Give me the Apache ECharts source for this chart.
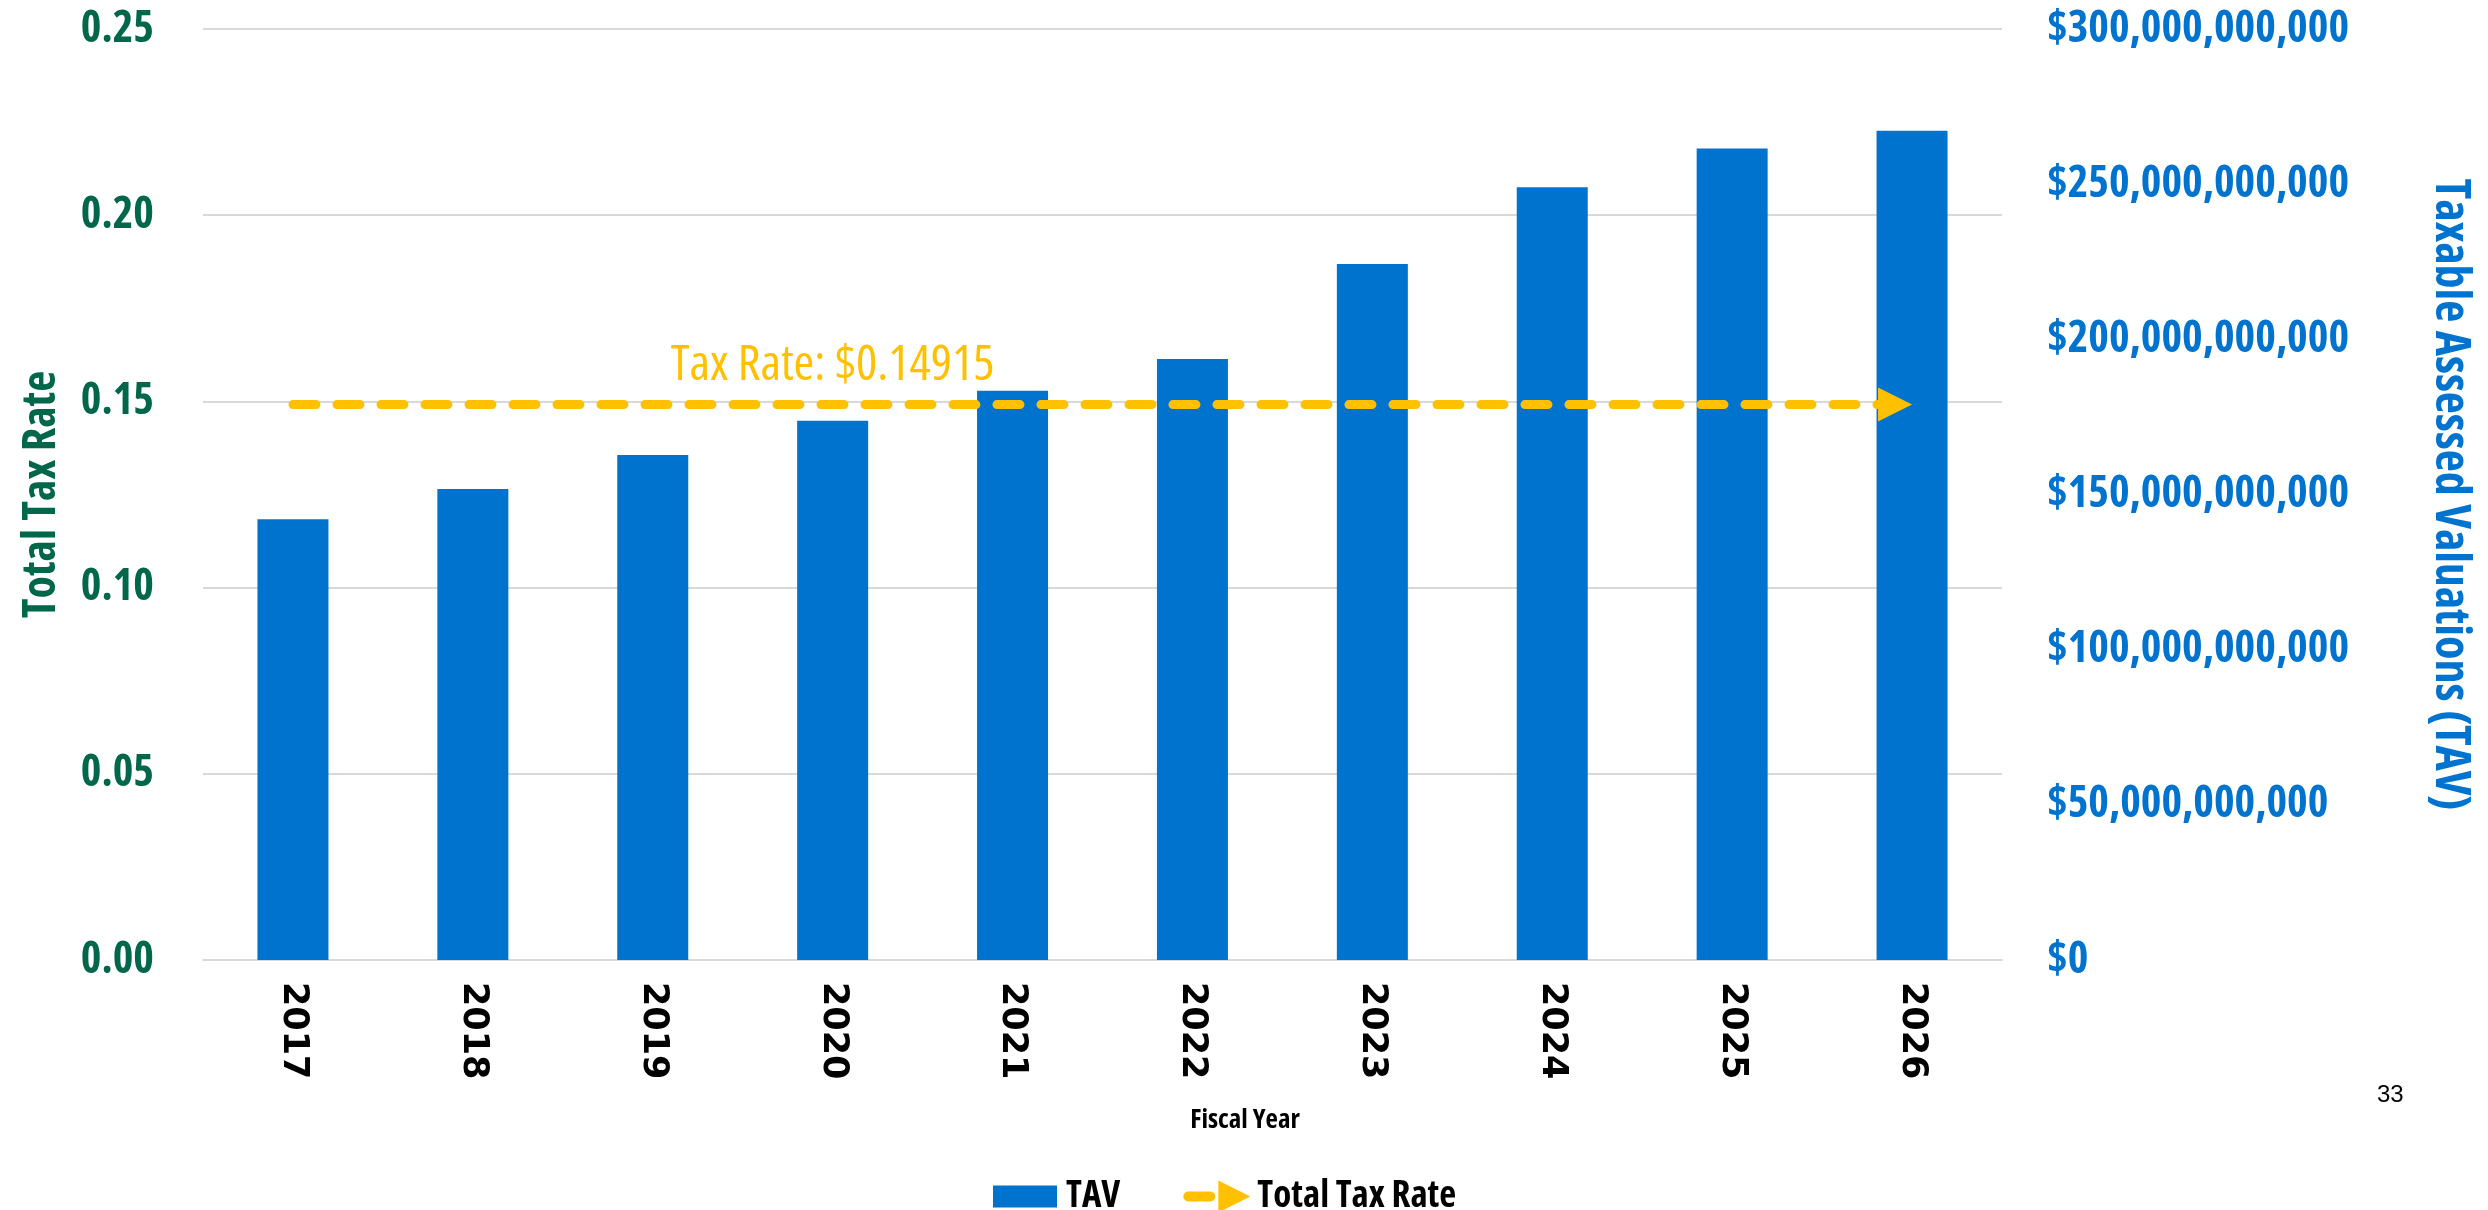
<!DOCTYPE html>
<html>
<head>
<meta charset="utf-8">
<script src="https://cdn.jsdelivr.net/npm/echarts@6/dist/echarts.min.js"></script>
<style>
  html, body { margin: 0; padding: 0; background: #fff; }
  #chart { width: 2488px; height: 1210px; }
</style>
</head>
<body>
<div id="chart"></div>
<script>
// fiscal years on the x axis
const years = ['2017', '2018', '2019', '2020', '2021', '2022', '2023', '2024', '2025', '2026'];
// taxable assessed valuation, in dollars
const tav = [142.0e9, 151.8e9, 162.7e9, 173.8e9, 183.4e9, 193.7e9, 224.3e9, 249.0e9, 261.5e9, 267.2e9];
// flat total tax rate
const taxRate = [0.14915, 0.14915, 0.14915, 0.14915, 0.14915, 0.14915, 0.14915, 0.14915, 0.14915, 0.14915];
const rateLabelIndex = 3;
const rateTicks = { min: 0, max: 0.25, interval: 0.05 };
const tavTicks = { min: 0, max: 300e9, interval: 50e9 };

const GREEN = '#00674A';
const BLUE = '#0073CF';
const GOLD = '#FFC000';

// the slide uses a condensed face; pick the narrowest one that is installed
const ctx = document.createElement('canvas').getContext('2d');
function textW(font, s) { ctx.font = font; return ctx.measureText(s).width; }
const probe = 'Total Tax Rate $0.14915 Assessed';
const fallbackW = textW('bold 100px monospace', probe);
const candidates = [
    { st: '', fam: '"Noto Sans ExtraCondensed"' },
    { st: '', fam: '"Noto Sans Condensed"' },
    { st: '', fam: '"Open Sans Condensed"' },
    { st: '', fam: '"Roboto Condensed"' },
    { st: '', fam: '"Liberation Sans Narrow"' },
    { st: 'extra-condensed', fam: '"Noto Sans"' },
    { st: 'condensed', fam: '"Noto Sans"' },
    { st: 'condensed', fam: '"Open Sans"' },
    { st: '', fam: '"DejaVu Sans Condensed"' }
];
let pick = { st: '', fam: '"DejaVu Sans Condensed"' };
let bestW = Infinity;
candidates.forEach(function (c) {
    const w = textW('bold ' + (c.st ? c.st + ' ' : '') + '100px ' + c.fam + ', monospace', probe);
    const plain = textW('bold 100px ' + c.fam + ', monospace', probe);
    const present = Math.abs(w - fallbackW) > 0.5 && (c.st === '' || Math.abs(w - plain) > 0.5);
    if (present && w < bestW) { bestW = w; pick = c; }
});
const FAM = pick.fam + ', sans-serif';
const BOLD = pick.st ? 'bold ' + pick.st : 'bold';
const NORM = pick.st ? 'normal ' + pick.st : 'normal';

// font size so that a string spans a width, capped by its cap height
function fit(s, weight, width, maxSize) {
    const w100 = textW(weight + ' 100px ' + FAM, s);
    return Math.min(maxSize, Math.floor(width / w100 * 100));
}
const tickSize = Math.min(fit('$300,000,000,000', BOLD, 304, 48), fit('0.25', BOLD, 76, 48));
const leftNameSize = fit('Total Tax Rate', BOLD, 250, 52);
const rightNameSize = fit('Taxable Assessed Valuations (TAV)', BOLD, 640, 52);
const rateLabelSize = fit('Tax Rate: $0.14915', NORM, 345, 50);
const legendSize = fit('Total Tax Rate', BOLD, 204, 40);
const fiscalSize = fit('Fiscal Year', BOLD, 112, 35);

const chart = echarts.init(document.getElementById('chart'));

const lastIdx = taxRate.length - 1;
const rateData = taxRate.map(function (v, i) {
    if (i === rateLabelIndex) {
        return {
            value: v,
            label: {
                show: true,
                position: 'top',
                distance: 14,
                formatter: 'Tax Rate: $' + v.toFixed(5),
                color: GOLD,
                fontFamily: FAM,
                fontWeight: NORM,
                fontSize: rateLabelSize
            }
        };
    }
    return v;
});

const option = {
    backgroundColor: '#fff',
    animation: false,
    grid: { left: 203, right: 486, top: 29, bottom: 250 },
    legend: {
        left: 984,
        top: 1173,
        itemWidth: 72,
        itemHeight: 34,
        itemGap: 60,
        textStyle: { color: '#000', fontFamily: FAM, fontWeight: BOLD, fontSize: legendSize },
        data: [
            { name: 'TAV', icon: 'path://M0 0M72 34M4 6L68 6L68 28L4 28Z', itemStyle: { color: BLUE, borderWidth: 0 } },
            { name: 'Total Tax Rate', icon: 'path://M0 0M72 34M8 12L30 12A5 5 0 0 1 30 22L8 22A5 5 0 0 1 8 12ZM38 1L70 17L38 33Z', itemStyle: { color: GOLD, borderWidth: 0 } }
        ]
    },
    graphic: [
        {
            type: 'text',
            x: 1245,
            y: 1120,
            style: {
                text: 'Fiscal Year', fill: '#000', align: 'center', verticalAlign: 'middle',
                fontFamily: FAM, fontWeight: BOLD, fontSize: fiscalSize
            }
        },
        {
            type: 'text',
            left: 2377,
            top: 1083,
            style: { text: '33', fill: '#000', font: '24px "Liberation Sans", Arial, sans-serif' }
        }
    ],
    xAxis: {
        type: 'category',
        data: years,
        axisTick: { show: false },
        axisLine: { lineStyle: { color: '#D9D9D9', width: 2 } },
        axisLabel: {
            rotate: -90,
            margin: 22,
            color: '#000',
            fontFamily: '"DejaVu Sans", sans-serif',
            fontWeight: 'bold',
            fontSize: 35
        }
    },
    yAxis: [
        {
            type: 'value',
            min: rateTicks.min,
            max: rateTicks.max,
            interval: rateTicks.interval,
            name: 'Total Tax Rate',
            nameLocation: 'middle',
            nameGap: 138,
            nameTextStyle: { color: GREEN, fontFamily: FAM, fontWeight: BOLD, fontSize: leftNameSize },
            axisLine: { show: false },
            axisTick: { show: false },
            splitLine: { lineStyle: { color: '#D9D9D9', width: 2 } },
            axisLabel: {
                margin: 49,
                color: GREEN,
                fontFamily: FAM,
                fontWeight: BOLD,
                fontSize: tickSize,
                formatter: function (v) { return v.toFixed(2); }
            }
        },
        {
            type: 'value',
            min: tavTicks.min,
            max: tavTicks.max,
            interval: tavTicks.interval,
            name: 'Taxable Assessed Valuations (TAV)',
            nameLocation: 'middle',
            nameRotate: -90,
            nameGap: 424,
            nameTextStyle: { color: BLUE, fontFamily: FAM, fontWeight: BOLD, fontSize: rightNameSize },
            axisLine: { show: false },
            axisTick: { show: false },
            splitLine: { show: false },
            axisLabel: {
                margin: 45,
                color: BLUE,
                fontFamily: FAM,
                fontWeight: BOLD,
                fontSize: tickSize,
                formatter: function (v) { return '$' + Math.round(v).toLocaleString('en-US'); }
            }
        }
    ],
    series: [
        {
            name: 'TAV',
            type: 'bar',
            yAxisIndex: 1,
            data: tav,
            barWidth: 71,
            itemStyle: { color: BLUE }
        },
        {
            name: 'Total Tax Rate',
            type: 'line',
            yAxisIndex: 0,
            data: rateData,
            showSymbol: true,
            showAllSymbol: true,
            symbol: function (v, p) { return p.dataIndex === lastIdx ? 'triangle' : 'circle'; },
            symbolSize: function (v, p) { return p.dataIndex === lastIdx ? [34, 34] : 0; },
            symbolRotate: function (v, p) { return p.dataIndex === lastIdx ? -90 : 0; },
            symbolOffset: function (v, p) { return p.dataIndex === lastIdx ? [-17, 0] : [0, 0]; },
            itemStyle: { color: GOLD, borderWidth: 0 },
            lineStyle: { color: GOLD, width: 9, type: [23, 21], cap: 'round' },
            z: 3
        }
    ]
};

chart.setOption(option);
</script>
</body>
</html>
